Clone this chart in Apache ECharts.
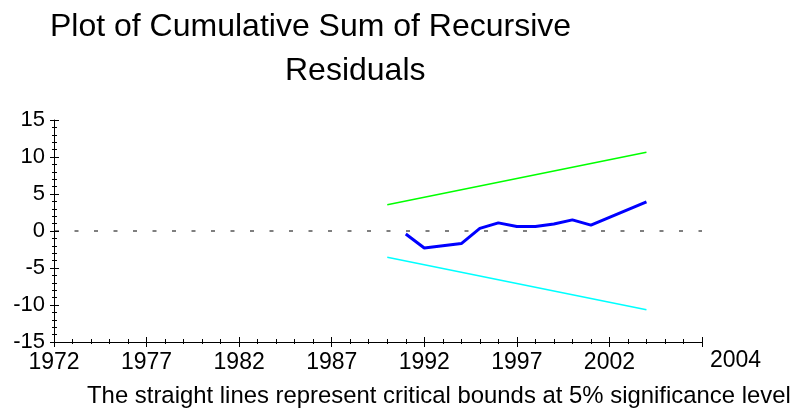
<!DOCTYPE html>
<html>
<head>
<meta charset="utf-8">
<script src="https://cdn.jsdelivr.net/npm/echarts@6/dist/echarts.min.js"></script>
<style>html,body{margin:0;padding:0;background:#fff}#c{width:794px;height:409px}</style>
</head>
<body>
<div id="c"></div>
<script>
// data
var cusumYears = [1991, 1992, 1993, 1994, 1995, 1996, 1997, 1998, 1999, 2000, 2001, 2002, 2003, 2004];
var cusumValues = [-0.4, -2.3, -2.0, -1.7, 0.35, 1.1, 0.6, 0.6, 0.95, 1.5, 0.8, 1.85, 2.9, 3.95];
var boundYears = [1990, 2004];
var upperBound = [3.55, 10.65];
var lowerBound = [-3.55, -10.65];
var zeroYears = [1972, 2007];
var zeroValues = [0, 0];
var xRange = [1972, 2007];
var yRange = [-15, 15];
var endLabel = '2004';
var titleLine1 = 'Plot of Cumulative Sum of Recursive';
var titleLine2 = 'Residuals';
var caption = 'The straight lines represent critical bounds at 5% significance level';

function pairs(xs, ys) { return xs.map(function (x, i) { return [x, ys[i]]; }); }

var FONT = '"Liberation Sans", Arial, sans-serif';
var chart = echarts.init(document.getElementById('c'), null, { renderer: 'canvas' });

chart.setOption({
  backgroundColor: '#fff',
  animation: false,
  title: [
    { text: titleLine1, left: 45, top: 6, textStyle: { fontFamily: FONT, fontSize: 32, fontWeight: 'normal', color: '#000' } },
    { text: titleLine2, left: 280, top: 50, textStyle: { fontFamily: FONT, fontSize: 32, fontWeight: 'normal', color: '#000' } },
    { text: caption, left: 82, top: 379, textStyle: { fontFamily: FONT, fontSize: 23.9, fontWeight: 'normal', color: '#000' } }
  ],
  grid: { left: 54, right: 92, top: 120, bottom: 67, containLabel: false },
  xAxis: [
    {
      type: 'value', min: xRange[0], max: xRange[1], interval: 5, position: 'bottom',
      splitLine: { show: false },
      axisLine: { show: true, onZero: false, lineStyle: { color: '#000', width: 1 } },
      axisTick: { show: true, inside: true, length: 5, lineStyle: { color: '#000' } },
      minorTick: { show: true, splitNumber: 5, length: 3, lineStyle: { color: '#000' } },
      axisLabel: { margin: 9, fontFamily: FONT, fontSize: 23, color: '#000', showMaxLabel: false,
        formatter: function (v) { return String(v); } },
      name: endLabel, nameLocation: 'end', nameGap: 8, nameMoveOverlap: false,
      nameTextStyle: { fontFamily: FONT, fontSize: 23, color: '#000', align: 'left', verticalAlign: 'top', padding: [7, 0, 0, 0] }
    },
    {
      type: 'value', min: xRange[0], max: xRange[1], interval: 5, position: 'bottom', offset: 0,
      splitLine: { show: false },
      axisLine: { show: false, onZero: false },
      axisTick: { show: true, inside: false, length: 5, lineStyle: { color: '#000' } },
      minorTick: { show: true, splitNumber: 5, length: 2, lineStyle: { color: '#000' } },
      axisLabel: { show: false }
    }
  ],
  yAxis: [
    {
      type: 'value', min: yRange[0], max: yRange[1], interval: 5, position: 'left',
      splitLine: { show: false },
      axisLine: { show: true, onZero: false, lineStyle: { color: '#000', width: 1 } },
      axisTick: { show: true, inside: true, length: 5, lineStyle: { color: '#000' } },
      minorTick: { show: true, splitNumber: 5, length: 3, lineStyle: { color: '#000' } },
      axisLabel: { margin: 9, fontFamily: FONT, fontSize: 22, color: '#000' }
    },
    {
      type: 'value', min: yRange[0], max: yRange[1], interval: 5, position: 'left', offset: 0,
      splitLine: { show: false },
      axisLine: { show: false, onZero: false },
      axisTick: { show: true, inside: false, length: 4, lineStyle: { color: '#000' } },
      minorTick: { show: true, splitNumber: 5, length: 2, lineStyle: { color: '#000' } },
      axisLabel: { show: false }
    }
  ],
  series: [
    {
      type: 'line', data: pairs(zeroYears, zeroValues), symbol: 'none', silent: true,
      lineStyle: { color: '#000', width: 1.2, type: [4, 15.5], dashOffset: 18.5 }
    },
    {
      type: 'line', data: pairs(boundYears, upperBound), symbol: 'none',
      lineStyle: { color: '#00ff00', width: 1.5 }
    },
    {
      type: 'line', data: pairs(boundYears, lowerBound), symbol: 'none',
      lineStyle: { color: '#00ffff', width: 1.5 }
    },
    {
      type: 'line', data: pairs(cusumYears, cusumValues), symbol: 'none',
      lineStyle: { color: '#0000ff', width: 3 }
    }
  ]
});
</script>
</body>
</html>
